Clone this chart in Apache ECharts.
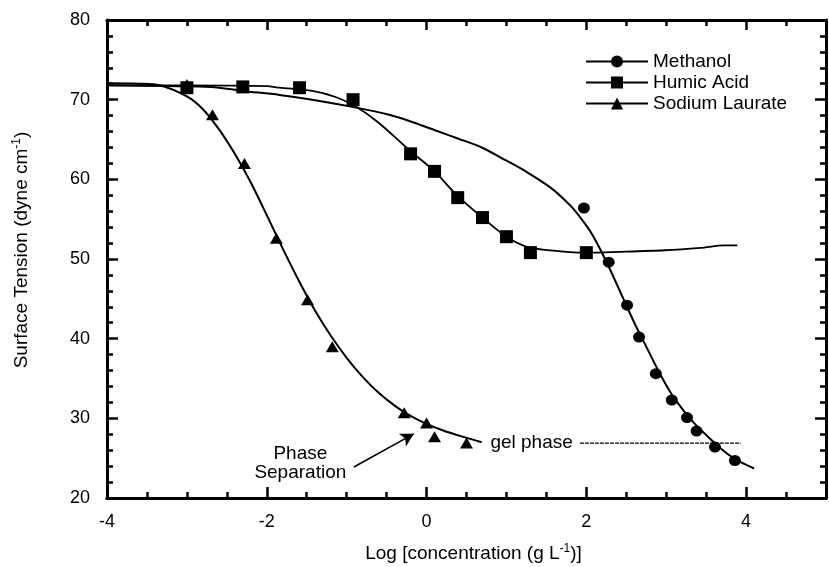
<!DOCTYPE html>
<html><head><meta charset="utf-8">
<script src="https://cdn.jsdelivr.net/npm/echarts@6/dist/echarts.min.js"></script>
<style>html,body{margin:0;padding:0;background:#fff}#c{width:829px;height:567px}</style>
</head><body><div id="c"></div>
<script>
// ---- data ----
const xTickLabels = [-4, -2, 0, 2, 4];
const yTickLabels = [20, 30, 40, 50, 60, 70, 80];

const methanolX = [1.97, 2.28, 2.51, 2.66, 2.87, 3.07, 3.26, 3.38, 3.61, 3.86];
const methanolY = [56.4, 49.6, 44.2, 40.2, 35.6, 32.3, 30.1, 28.4, 26.4, 24.7];

const humicX = [-3.0, -2.3, -1.59, -0.92, -0.2, 0.1, 0.39, 0.70, 1.0, 1.30, 2.0];
const humicY = [71.5, 71.6, 71.5, 70.0, 63.2, 61.0, 57.7, 55.2, 52.8, 50.8, 50.8];

const laurateX = [-3.0, -2.68, -2.28, -1.88, -1.49, -1.18, -0.28, 0.0, 0.1, 0.5];
const laurateY = [71.9, 68.1, 62.0, 52.6, 44.9, 39.0, 30.7, 29.4, 27.7, 26.9];

const methanolFitX = [-4, -3.25, -2.7, -2.3, -1.84, -1.43, -0.88, -0.47, -0.18, 0.15, 0.40, 0.69, 0.99, 1.24, 1.56, 1.81, 1.94, 2.06, 2.18, 2.31, 2.45, 2.6, 2.75, 2.9, 3.05, 3.2, 3.35, 3.5, 3.65, 3.8, 3.95, 4.1];
const methanolFitY = [71.8, 71.7, 71.6, 71.1, 70.6, 70.0, 69.0, 68.1, 67.2, 66.0, 65.1, 64.0, 62.4, 61.0, 58.9, 56.6, 55.0, 53.3, 51.1, 48.4, 45.3, 42.0, 39.0, 36.0, 33.3, 31.2, 29.4, 27.9, 26.5, 25.3, 24.4, 23.7];

const humicFitX = [-4, -3, -2.0, -1.84, -1.43, -1.13, -0.88, -0.6, -0.22, 0.1, 0.39, 0.7, 1.0, 1.27, 1.65, 2.0, 2.4, 2.98, 3.43, 3.73, 3.89];
const humicFitY = [71.8, 71.8, 71.7, 71.5, 71.1, 70.3, 69.1, 67.1, 63.7, 61.0, 57.9, 55.2, 52.8, 51.5, 51.0, 50.8, 50.9, 51.1, 51.4, 51.7, 51.7];

const laurateFitX = [-4, -3.6, -3.34, -3.0, -2.8, -2.6, -2.4, -2.2, -2.0, -1.8, -1.6, -1.4, -1.2, -1.0, -0.8, -0.6, -0.4, -0.2, 0.0, 0.2, 0.45, 0.69];
const laurateFitY = [72.05, 72.0, 71.8, 70.4, 68.8, 66.3, 63.2, 59.6, 55.5, 51.3, 47.3, 43.6, 40.4, 37.6, 35.2, 33.2, 31.6, 30.3, 29.3, 28.5, 27.7, 27.0];

const gelLineX = [1.92, 3.93];
const gelLineY = [26.9, 26.9];
const gelLabelPos = [1.315, 26.9];
const phaseLabelPos = [-1.58, 24.35];
const arrowFrom = [-0.91, 23.9];
const arrowTo = [-0.16, 28.05];

// ---- chart ----
const FONT = "'Liberation Sans', Arial, Helvetica, sans-serif";
const zip = (a, b) => a.map((v, i) => [v, b[i]]);
const X_MIN = -4, X_MAX = 5;

function xAxisDef(pos, interval, len, showLabel) {
  return {
    type: 'value', position: pos, min: X_MIN, max: X_MAX, interval: interval,
    axisLine: { show: true, onZero: false, lineStyle: { color: '#000', width: 3 } },
    axisTick: { show: true, inside: true, length: len, lineStyle: { color: '#000', width: 2.5 } },
    axisLabel: {
      show: showLabel, margin: 15, color: '#000', fontFamily: FONT, fontSize: 18,
      formatter: v => (xTickLabels.indexOf(v) >= 0 ? String(v) : '')
    },
    splitLine: { show: false }
  };
}
function yAxisDef(pos, showLabel) {
  return {
    type: 'value', position: pos, min: 20, max: 80, interval: 10,
    axisLine: { show: true, onZero: false, lineStyle: { color: '#000', width: 3 } },
    axisTick: { show: true, inside: true, length: 11, lineStyle: { color: '#000', width: 2.5 } },
    minorTick: { show: true, splitNumber: 5, length: 6, lineStyle: { color: '#000', width: 2.5 } },
    axisLabel: {
      show: showLabel, margin: 17, color: '#000', fontFamily: FONT, fontSize: 18,
      formatter: v => (yTickLabels.indexOf(v) >= 0 ? String(v) : '')
    },
    splitLine: { show: false }
  };
}

const xAxes = [
  xAxisDef('bottom', 0.5, 6, false),
  xAxisDef('bottom', 2, 11, true),
  xAxisDef('top', 0.5, 6, false),
  xAxisDef('top', 2, 10, false)
];
xAxes[1].name = 'Log [concentration (g L{sup|-1})]';
xAxes[1].nameLocation = 'middle';
xAxes[1].nameGap = 45;
xAxes[1].nameTextStyle = {
  color: '#000', fontFamily: FONT, fontSize: 19, padding: [0, 0, 0, 14],
  rich: { sup: { fontSize: 12, fontFamily: FONT, color: '#000', verticalAlign: 'top', lineHeight: 22 } }
};

const yAxes = [yAxisDef('left', true), yAxisDef('right', false)];
yAxes[0].name = 'Surface Tension (dyne cm{sup|-1})';
yAxes[0].nameLocation = 'middle';
yAxes[0].nameGap = 74;
yAxes[0].nameTextStyle = {
  color: '#000', fontFamily: FONT, fontSize: 19, padding: [0, 0, 0, 18],
  rich: { sup: { fontSize: 12, fontFamily: FONT, color: '#000', verticalAlign: 'top', lineHeight: 22 } }
};

function fitSeries(name, symbol, xs, ys, width) {
  return {
    name: name, type: 'line', xAxisIndex: 1, yAxisIndex: 0,
    data: zip(xs, ys), smooth: 0.3, symbol: symbol, showSymbol: false,
    lineStyle: { color: '#000', width: width }, itemStyle: { color: '#000' },
    silent: true, z: 2
  };
}
function ptSeries(name, symbol, size, xs, ys) {
  return {
    name: name, type: 'scatter', xAxisIndex: 1, yAxisIndex: 0,
    data: zip(xs, ys), symbol: symbol, symbolSize: size,
    itemStyle: { color: '#000', opacity: 1 }, silent: true, z: 3
  };
}

const option = {
  animation: false,
  backgroundColor: '#fff',
  grid: { left: 107, right: 3, top: 20, bottom: 69, containLabel: false, outerBoundsMode: 'none' },
  xAxis: xAxes,
  yAxis: yAxes,
  legend: {
    data: ['Methanol', 'Humic Acid', 'Sodium Laurate'],
    orient: 'vertical', left: 585, top: 51, padding: 0, itemWidth: 62, itemHeight: 15, itemGap: 0,
    textStyle: { color: '#000', fontFamily: FONT, fontSize: 19, lineHeight: 21 },
    selectedMode: false
  },
  series: [
    fitSeries('Methanol', 'circle', methanolFitX, methanolFitY, 2),
    fitSeries('Humic Acid', 'rect', humicFitX, humicFitY, 1.8),
    fitSeries('Sodium Laurate', 'triangle', laurateFitX, laurateFitY, 2),
    ptSeries('Methanol', 'circle', [12, 11], methanolX, methanolY),
    ptSeries('Humic Acid', 'rect', 13, humicX, humicY),
    ptSeries('Sodium Laurate', 'triangle', [13, 11], laurateX, laurateY),
    {
      name: 'gel', type: 'line', xAxisIndex: 1, yAxisIndex: 0,
      data: zip(gelLineX, gelLineY), showSymbol: false, symbol: 'none',
      lineStyle: { color: '#000', width: 1.2, type: [4, 1] }, silent: true,
      markPoint: {
        symbol: 'rect', symbolSize: 0, silent: true,
        label: { show: true, position: 'inside', color: '#000', fontFamily: FONT, fontSize: 19, lineHeight: 19 },
        data: [
          { coord: gelLabelPos, value: 0, label: { formatter: 'gel phase' } },
          { coord: phaseLabelPos, value: 0, label: { formatter: 'Phase\nSeparation', align: 'center' } }
        ]
      },
      markLine: {
        silent: true, symbol: ['none', 'arrow'], symbolSize: [11, 13],
        lineStyle: { color: '#000', width: 1.6, type: 'solid' },
        label: { show: false },
        data: [[{ coord: arrowFrom }, { coord: arrowTo }]]
      }
    }
  ]
};

const chart = echarts.init(document.getElementById('c'), null, { renderer: 'canvas' });
chart.setOption(option);
</script>
</body></html>
